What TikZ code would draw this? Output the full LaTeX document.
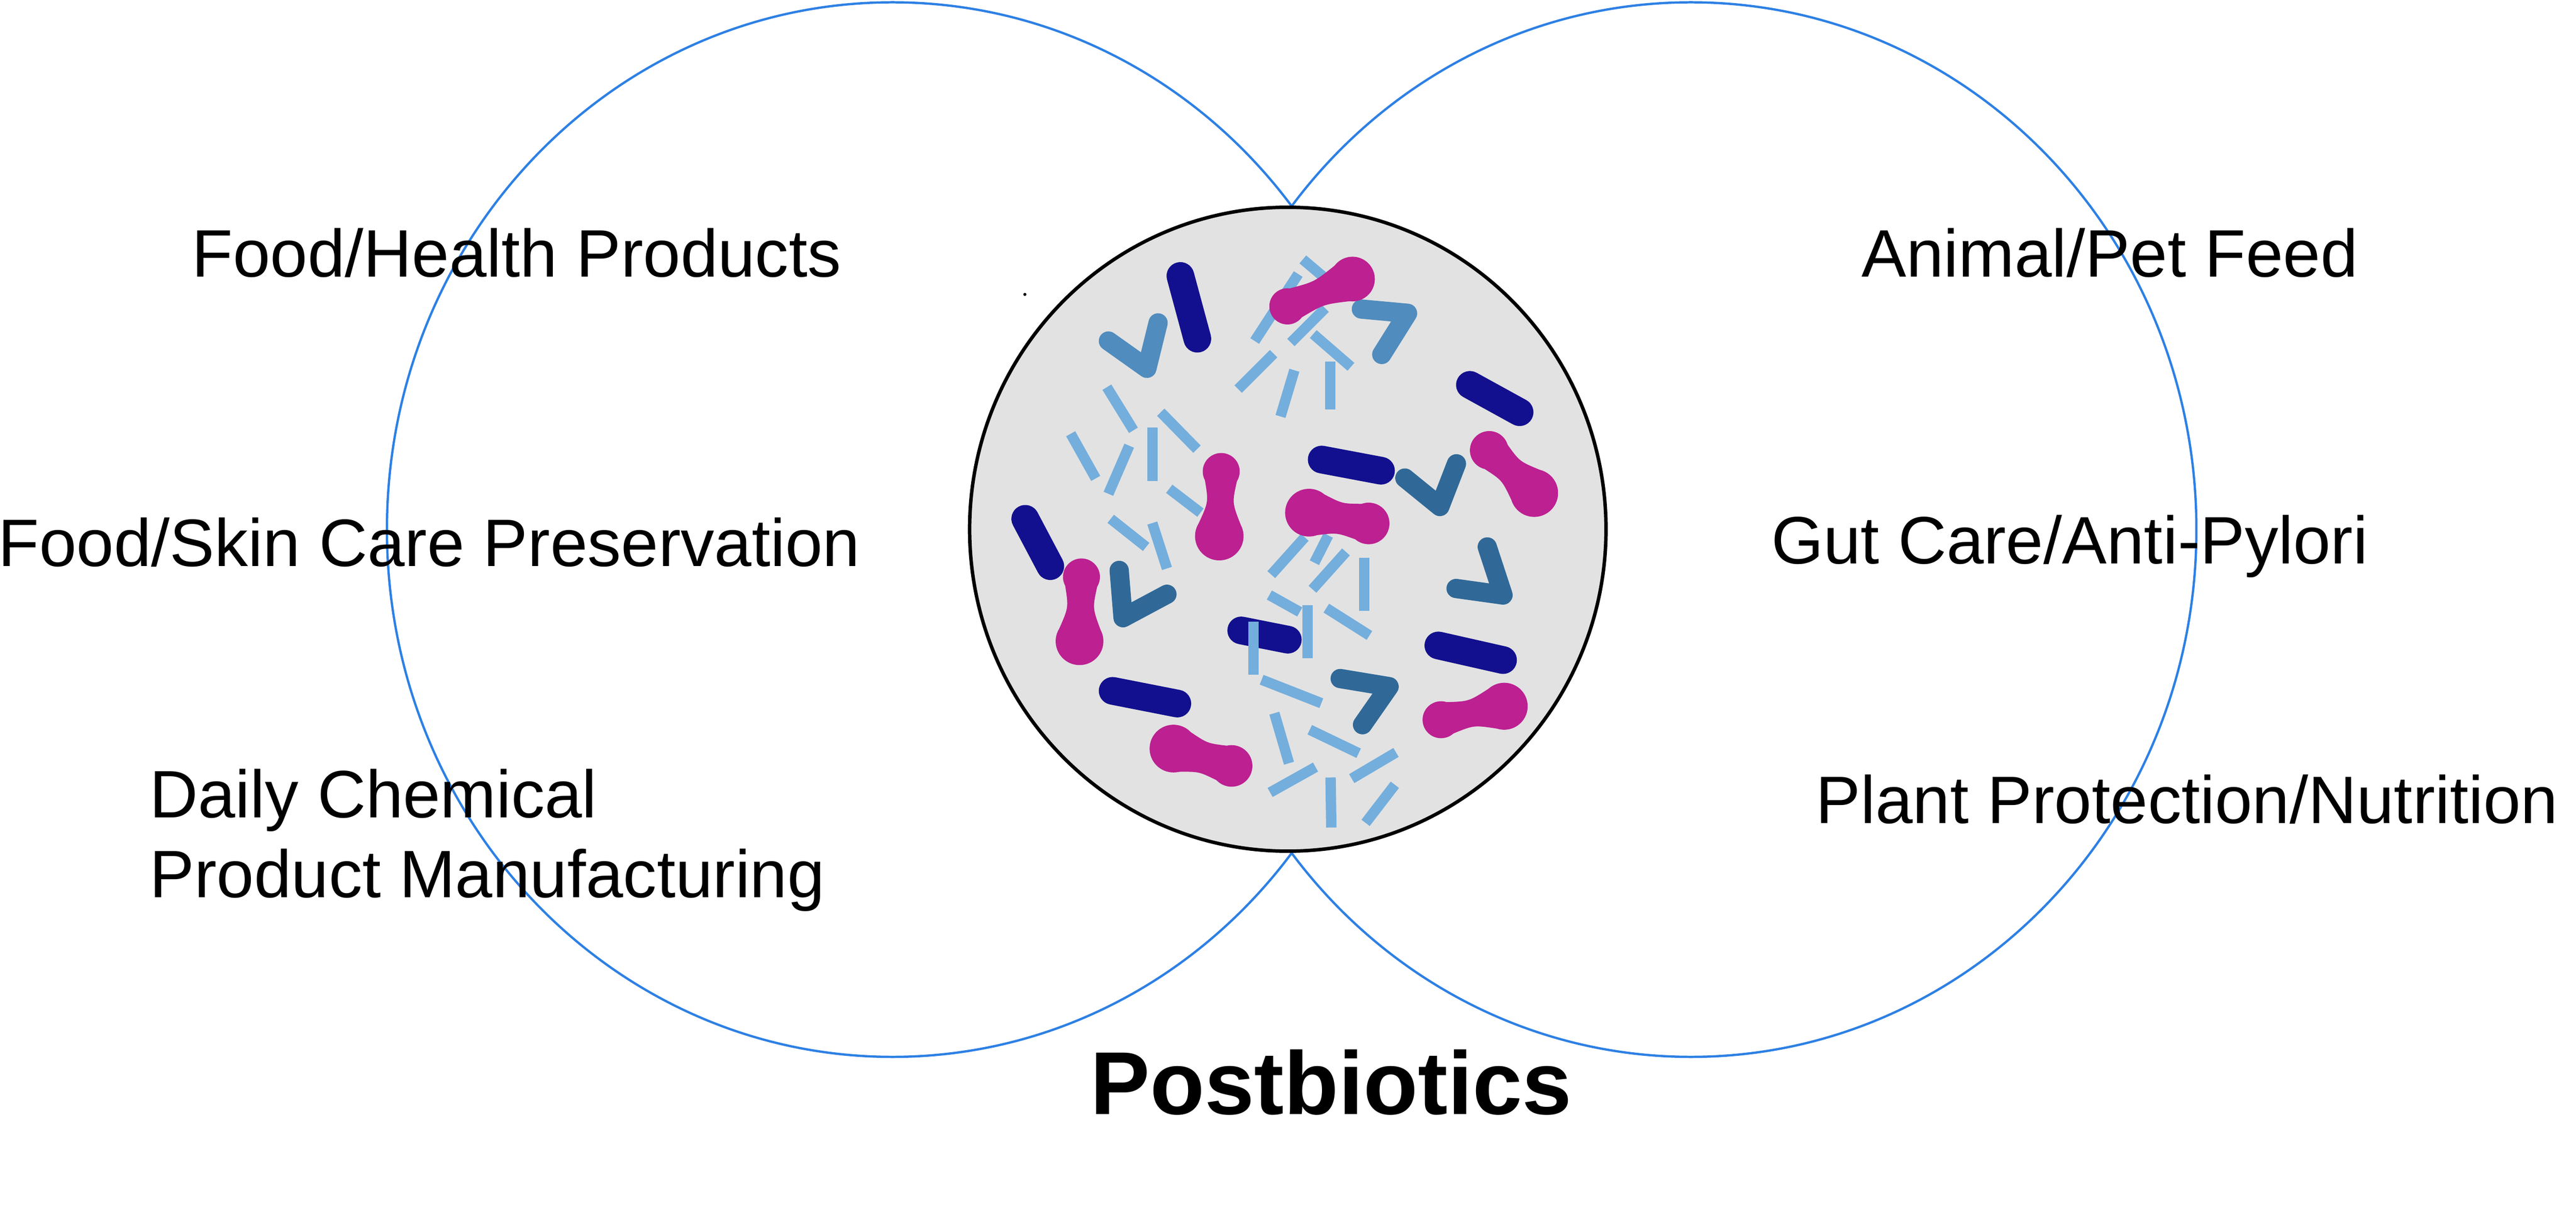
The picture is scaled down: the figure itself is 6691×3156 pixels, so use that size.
\documentclass[tikz,border=0pt]{standalone}
\usepackage{fontspec}
\setmainfont{Liberation Sans}
\usepackage{xcolor}
\usetikzlibrary{shapes.geometric}
\definecolor{vennblue}{RGB}{45,128,228}
\definecolor{cellgray}{RGB}{226,226,226}
\definecolor{rodnavy}{RGB}{18,16,142}
\definecolor{fragblue}{RGB}{116,174,220}
\definecolor{vlight}{RGB}{80,140,190}
\definecolor{vdark}{RGB}{48,105,152}
\definecolor{lobepink}{RGB}{188,32,145}
\tikzset{
	setring/.style={ellipse, draw=vennblue, line width=0.6mm, minimum width=262.6mm, minimum height=274mm, inner sep=0pt},
	cell/.style={ellipse, draw=black, fill=cellgray, line width=0.9mm, minimum width=165.3mm, minimum height=167.3mm, inner sep=0pt},
	apptext/.style={anchor=base west, inner sep=0pt, font=\fontsize{49.6}{59}\selectfont},
	titletext/.style={anchor=base west, inner sep=0pt, font=\fontsize{66}{79}\selectfont\bfseries},
	rod/.style={draw=rodnavy, line width=7.2mm, line cap=round},
	frag/.style={draw=fragblue, line width=2.7mm},
	vshape/.style={line width=5mm, line cap=round, line join=round}
}

\begin{document}
\begin{tikzpicture}[
		x=0.1mm, y=-0.1mm,
		lobe/.style={fill=lobepink}
		]
		\useasboundingbox (0,0) rectangle (6691,3156);
		
		% --- The two application sets ---
		\node[setring] (left_set) at (2318,1376) {};
		\node[setring] (right_set) at (4392,1376) {};
		
		% --- Application labels ---
		\node[apptext] (food_health) at (498,719) {Food/Health Products};
		\node[apptext] (food_skin) at (-5,1471) {Food/Skin Care Preservation};
		\node[apptext] (daily_chem) at (388,2124) {Daily Chemical};
		\node[apptext] (product_manu) at (388,2332) {Product Manufacturing};
		\node[apptext] (animal_feed) at (4835,719) {Animal/Pet Feed};
		\node[apptext] (gut_care) at (4600,1464) {Gut Care/Anti-Pylori};
		\node[apptext] (plant_prot) at (4716,2139) {Plant Protection/Nutrition};
		\node[titletext] (postbiotics) at (2832,2895) {Postbiotics};
		
		% --- Central cell with the inactivated bacteria ---
		\node[cell] (cell) at (3345,1375) {};
		\fill (2662,765) circle (0.4mm);
		
		% dark rods
		\draw[rod] (3066,717) -- (3110,880);
		\draw[rod] (3818,1000) -- (3947,1071);
		\draw[rod] (3433,1194) -- (3587,1223);
		\draw[rod] (2663,1348) -- (2728,1471);
		\draw[rod] (3224,1638) -- (3345,1662);
		\draw[rod] (3736,1677) -- (3904,1715);
		\draw[rod] (2890,1795) -- (3058,1828);
		
		% light fragments, top group
		\draw[frag] (3384,674) -- (3450,730);
		\draw[frag] (3259,886) -- (3372,712);
		\draw[frag] (3442,801) -- (3353,890);
		\draw[frag] (3411,868) -- (3509,953);
		\draw[frag] (3455,939) -- (3455,1064);
		\draw[frag] (3362,962) -- (3326,1082);
		\draw[frag] (3216,1011) -- (3308,919);
		% light fragments, left group
		\draw[frag] (2875,1006) -- (2944,1118);
		\draw[frag] (3015,1071) -- (3109,1167);
		\draw[frag] (2781,1127) -- (2846,1243);
		\draw[frag] (2933,1158) -- (2879,1283);
		\draw[frag] (2993,1111) -- (2993,1250);
		\draw[frag] (3037,1270) -- (3118,1332);
		\draw[frag] (2885,1348) -- (2977,1421);
		\draw[frag] (2993,1359) -- (3031,1477);
		% light fragments, lower group
		\draw[frag] (3302,1493) -- (3389,1396);
		\draw[frag] (3414,1462) -- (3450,1391);
		\draw[frag] (3409,1531) -- (3496,1434);
		\draw[frag] (3544,1449) -- (3544,1587);
		\draw[frag] (3297,1546) -- (3376,1590);
		\draw[frag] (3396,1572) -- (3396,1710);
		\draw[frag] (3445,1580) -- (3557,1651);
		\draw[frag] (3256,1615) -- (3256,1753);
		\draw[frag] (3277,1766) -- (3432,1827);
		\draw[frag] (3310,1853) -- (3348,1983);
		\draw[frag] (3402,1896) -- (3529,1957);
		\draw[frag] (3299,2059) -- (3417,1993);
		\draw[frag] (3511,2023) -- (3626,1955);
		\draw[frag] (3456,2020) -- (3458,2150);
		\draw[frag] (3547,2138) -- (3623,2039);
		
		% chevrons
		\draw[vshape, vlight] (2879,886) -- (2979,957) -- (3008,839);
		\draw[vshape, vlight] (3536,803) -- (3656,814) -- (3589,921);
		\draw[vshape, vdark] (3649,1242) -- (3740,1316) -- (3783,1205);
		\draw[vshape, vdark] (3863,1421) -- (3904,1546) -- (3782,1529);
		\draw[vshape, vdark] (2907,1482) -- (2917,1605) -- (3031,1544);
		\draw[vshape, vdark] (3481,1763) -- (3608,1784) -- (3539,1883);
		
		% dumbbells: two lobes and a pinched waist between them
		\foreach \ax/\ay/\ra/\bx/\by/\rb in {
				3344/796/47/3513/725/58, 3172/1225/48/3167/1393/63,
				3400/1332/62/3555/1360/54, 3868/1170/50/3985/1281/62,
				2809/1499/48/2804/1666/62, 3048/1945/62/3199/1990/54,
				3743/1870/48/3907/1835/61}{
			\pgfmathsetmacro{\dlen}{veclen(\bx-\ax,\ay-\by)}
			\pgfmathsetmacro{\tilt}{atan2(\ay-\by,\bx-\ax)}
			\pgfmathsetmacro{\waistx}{(0.5*\ra+\dlen-0.5*\rb)/2}
			\pgfmathsetmacro{\waisty}{2*0.82*min(\ra,\rb)-0.433*(\ra+\rb)}
			\begin{scope}[shift={(\ax,\ay)}, rotate=\tilt]
				\fill[lobe] (0,0) circle (\ra) (\dlen,0) circle (\rb);
				\fill[lobe] (0.5*\ra,0.866*\ra) .. controls (\waistx,\waisty) .. (\dlen-0.5*\rb,0.866*\rb)
					-- (\dlen-0.5*\rb,-0.866*\rb) .. controls (\waistx,-\waisty) .. (0.5*\ra,-0.866*\ra) -- cycle;
			\end{scope}
		}
		
	\end{tikzpicture}
\end{document}
